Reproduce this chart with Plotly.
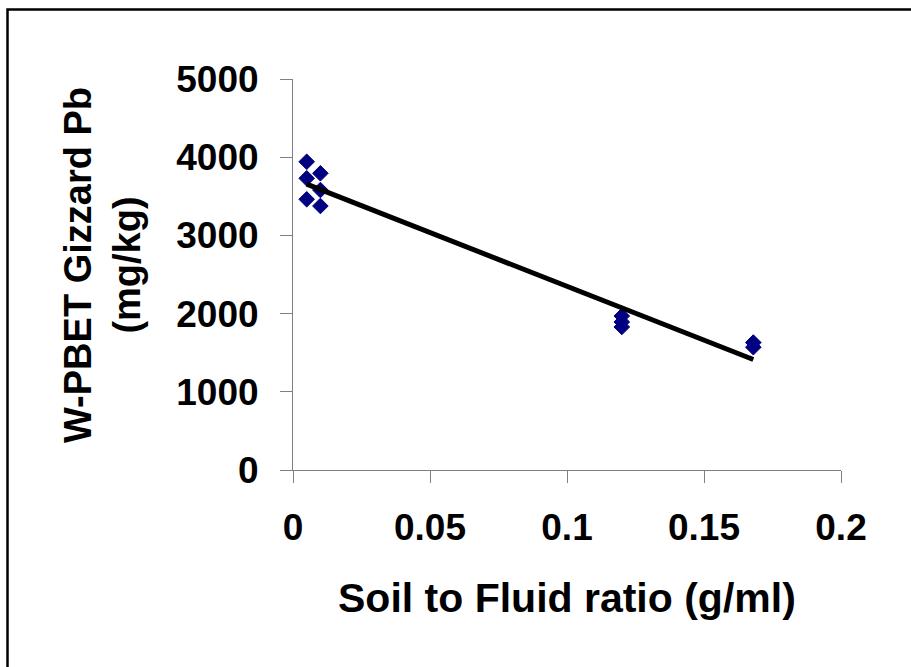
import numpy as np
import plotly.graph_objects as go

# Data
soil_fluid_ratio = [0.005, 0.005, 0.005, 0.01, 0.01, 0.01, 0.12, 0.12, 0.12, 0.168, 0.168]
gizzard_pb = [3942, 3730, 3462, 3794, 3580, 3376, 1969, 1893, 1829, 1630, 1570]

x_ticks = [0, 0.05, 0.1, 0.15, 0.2]
x_tick_labels = ["0", "0.05", "0.1", "0.15", "0.2"]
y_ticks = [0, 1000, 2000, 3000, 4000, 5000]
y_tick_labels = ["0", "1000", "2000", "3000", "4000", "5000"]

x_title = "Soil to Fluid ratio (g/ml)"
y_title_lines = ["W-PBET Gizzard Pb", "(mg/kg)"]

# Linear trend line (least squares) across the data range
slope, intercept = np.polyfit(soil_fluid_ratio, gizzard_pb, 1)
trend_x = [min(soil_fluid_ratio), max(soil_fluid_ratio)]
trend_y = [slope * v + intercept for v in trend_x]

FONT = "Liberation Sans, Arial, sans-serif"
W, H = 911, 667
L, R, T, B = 293, 841, 79, 470

fig = go.Figure()
fig.add_trace(go.Scatter(
    x=soil_fluid_ratio, y=gizzard_pb, mode="markers",
    marker=dict(symbol="diamond", size=12, color="#000080",
                line=dict(color="#000080", width=1)),
    showlegend=False, cliponaxis=False,
))
fig.add_trace(go.Scatter(
    x=trend_x, y=trend_y, mode="lines",
    line=dict(color="black", width=5),
    showlegend=False, cliponaxis=False,
))

tick_font = dict(family=FONT, size=37, color="black", weight="bold")
axis_common = dict(
    showgrid=False, zeroline=False, showline=True, linecolor="#808080", linewidth=1,
    ticks="outside", ticklen=12, tickcolor="#808080", tickwidth=1,
    tickfont=tick_font,
)

fig.update_xaxes(range=[0, 0.2], tickvals=x_ticks, ticktext=x_tick_labels,
                 ticklabelstandoff=13, **axis_common)
fig.update_yaxes(range=[0, 5000], tickvals=y_ticks, ticktext=y_tick_labels,
                 ticklabelstandoff=14, **axis_common)

pw, ph = R - L, B - T
def px_to_paper_x(px):
    return (px - L) / pw
def px_to_paper_y(py):
    return (B - py) / ph

fig.add_annotation(
    text="<b>" + x_title + "</b>", xref="paper", yref="paper",
    x=px_to_paper_x(567), y=px_to_paper_y(598), xanchor="center", yanchor="middle",
    showarrow=False, font=dict(family=FONT, size=41, color="black"),
)
fig.add_annotation(
    text="<br>".join("<b>" + s + "</b>" for s in y_title_lines), xref="paper", yref="paper",
    x=px_to_paper_x(102), y=px_to_paper_y(265), xanchor="center", yanchor="middle",
    textangle=-90, showarrow=False, font=dict(family=FONT, size=38, color="black"),
)

fig.add_shape(
    type="rect", xref="paper", yref="paper",
    x0=px_to_paper_x(7.5), y1=px_to_paper_y(9.5), x1=px_to_paper_x(1200), y0=px_to_paper_y(900),
    line=dict(color="black", width=2.5), fillcolor="rgba(0,0,0,0)", layer="above",
)

fig.update_layout(
    width=W, height=H, autosize=False,
    margin=dict(l=L, r=W - R, t=T, b=H - B),
    paper_bgcolor="white", plot_bgcolor="white",
    font=dict(family=FONT, color="black"),
)

fig.write_html("out.html")
